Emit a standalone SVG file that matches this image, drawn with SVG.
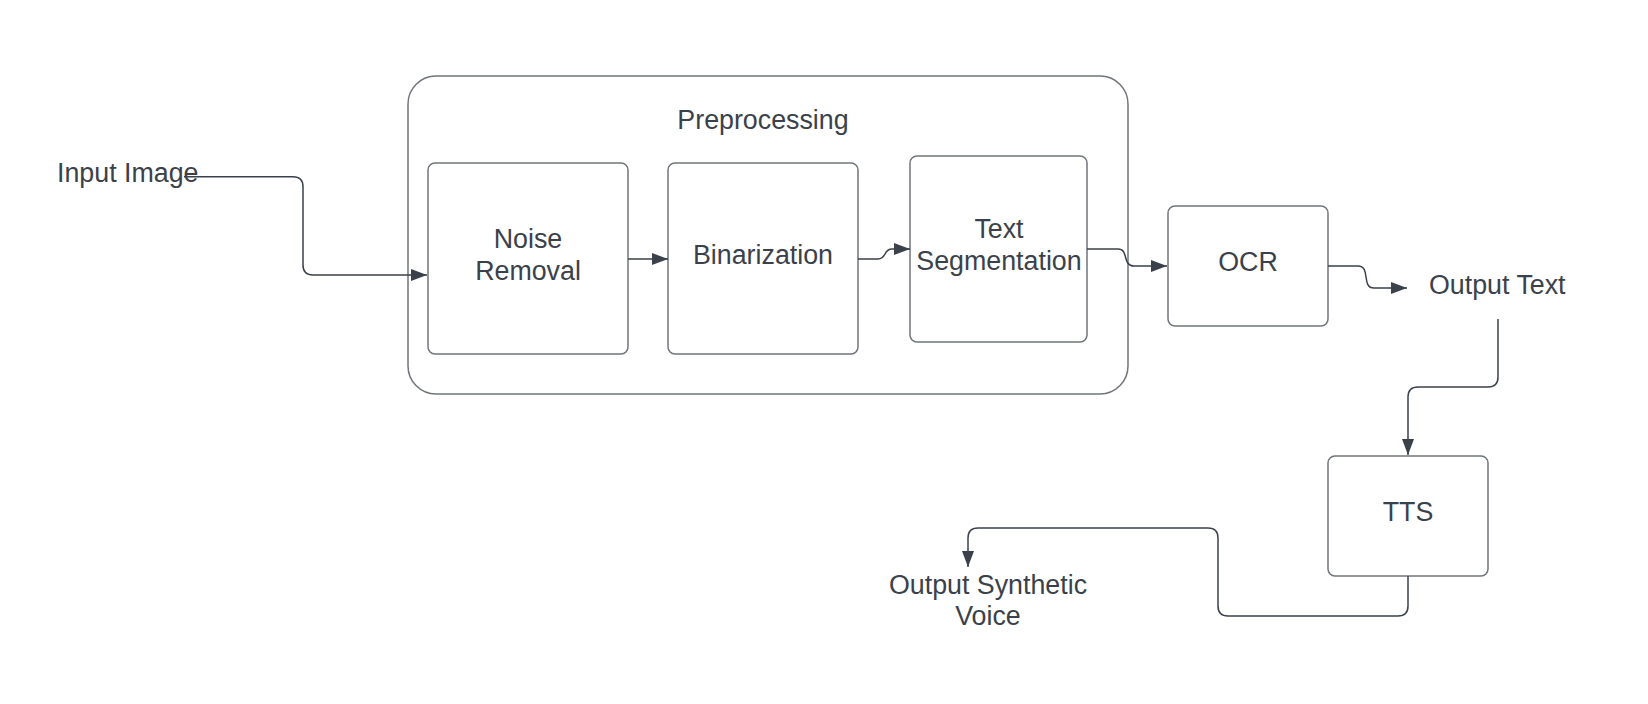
<svg xmlns="http://www.w3.org/2000/svg" width="1648" height="704" viewBox="0 0 1648 704">
<style>
.box{fill:#ffffff;stroke:#70757c;stroke-width:1.5}
.lbl{font-family:"Liberation Sans",Arial,sans-serif;font-size:26.8px;fill:#3a414a;text-anchor:middle}
.lblL{font-family:"Liberation Sans",Arial,sans-serif;font-size:26.8px;fill:#3a414a}
.conn{fill:none;stroke:#3a414a;stroke-width:1.5}
</style>
<defs>
<marker id="arr" markerUnits="userSpaceOnUse" markerWidth="18" markerHeight="14" viewBox="0 0 18 14" refX="16" refY="7" orient="auto">
<path d="M0,1 L16,7 L0,13 Z" fill="#3a414a"/>
</marker>
</defs>
<rect width="1648" height="704" fill="#ffffff"/>
<g id="preprocessing">
<rect class="box" x="408" y="76" width="720" height="318" rx="28" ry="28"/>
<text class="lbl" x="763" y="129">Preprocessing</text>
</g>
<g id="noise-removal">
<rect class="box" x="428" y="163" width="200" height="191" rx="7" ry="7"/>
<text class="lbl" x="528" y="248">Noise</text>
<text class="lbl" x="528" y="280">Removal</text>
</g>
<g id="binarization">
<rect class="box" x="668" y="163" width="190" height="191" rx="7" ry="7"/>
<text class="lbl" x="763" y="264">Binarization</text>
</g>
<g id="text-segmentation">
<rect class="box" x="910" y="156" width="177" height="186" rx="7" ry="7"/>
<text class="lbl" x="999" y="238">Text</text>
<text class="lbl" x="999" y="270">Segmentation</text>
</g>
<g id="ocr">
<rect class="box" x="1168" y="206" width="160" height="120" rx="7" ry="7"/>
<text class="lbl" x="1248" y="271">OCR</text>
</g>
<g id="tts">
<rect class="box" x="1328" y="456" width="160" height="120" rx="7" ry="7"/>
<text class="lbl" x="1408" y="521">TTS</text>
</g>
<g id="input-image">
<text class="lblL" x="57" y="182">Input Image</text>
</g>
<g id="output-text">
<text class="lblL" x="1429" y="294">Output Text</text>
</g>
<g id="output-voice">
<text class="lbl" x="988" y="594">Output Synthetic</text>
<text class="lbl" x="988" y="625">Voice</text>
</g>
<g id="connectors">
<path class="conn" d="M184,176.7 H293 Q303,176.7 303,186.7 V265 Q303,275 313,275 H427" marker-end="url(#arr)"/>
<path class="conn" d="M628,259 H668" marker-end="url(#arr)"/>
<path class="conn" d="M858,259 H878 C887,259 883,249 892,249 H910" marker-end="url(#arr)"/>
<path class="conn" d="M1087,249 H1118 C1129,249 1122,266 1134,266 H1167" marker-end="url(#arr)"/>
<path class="conn" d="M1328,266 H1358 C1371,266 1361,288 1374,288 H1407" marker-end="url(#arr)"/>
<path class="conn" d="M1498,319 V377 Q1498,387 1488,387 H1418 Q1408,387 1408,397 V455" marker-end="url(#arr)"/>
<path class="conn" d="M1408,576 V606 Q1408,616 1398,616 H1228 Q1218,616 1218,606 V538 Q1218,528 1208,528 H978 Q968,528 968,538 V567" marker-end="url(#arr)"/>
</g>
</svg>
